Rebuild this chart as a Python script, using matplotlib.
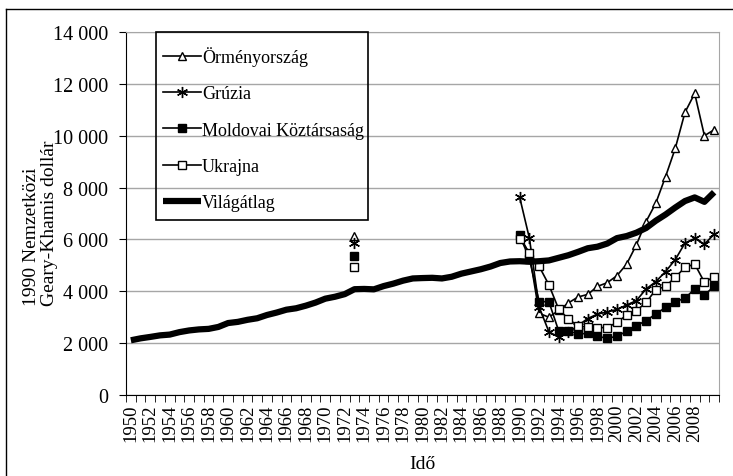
import numpy as np
import matplotlib.pyplot as plt
from matplotlib.lines import Line2D
from matplotlib.patches import Rectangle
from matplotlib.ticker import FuncFormatter

plt.rcParams['font.family'] = ['Liberation Serif', 'DejaVu Serif']
plt.rcParams['font.size'] = 13.5

years = list(range(1950, 2011))

# world average, 1950-2010
world = [2110, 2185, 2240, 2300, 2330, 2425, 2490, 2530, 2550, 2625,
         2775, 2820, 2900, 2960, 3085, 3180, 3290, 3345, 3445, 3565,
         3715, 3790, 3890, 4080, 4090, 4075, 4200, 4295, 4410, 4495,
         4510, 4520, 4495, 4560, 4680, 4765, 4850, 4955, 5090, 5150,
         5160, 5140, 5160, 5190, 5290, 5390, 5520, 5660, 5720, 5840,
         6050, 6130, 6260, 6440, 6720, 6960, 7230, 7480, 7620, 7450,
         7820]

# single year 1973 values
armenia_1973 = 6150
georgia_1973 = 5880
moldova_1973 = 5380
ukraine_1973 = 4920

# 1990-2010 values
armenia = [6140, 5440, 3150, 3000, 3260, 3550, 3780, 3880, 4190, 4330,
           4600, 5050, 5790, 6690, 7400, 8420, 9510, 10900, 11630, 10000,
           10230]
georgia = [7620, 6040, 3390, 2440, 2230, 2420, 2680, 2950, 3120, 3200,
           3300, 3470, 3640, 4090, 4370, 4760, 5220, 5860, 6040, 5820,
           6200]
moldova = [6160, 5250, 3600, 3600, 2480, 2480, 2350, 2380, 2260, 2190,
           2260, 2460, 2670, 2870, 3120, 3380, 3600, 3730, 4090, 3860,
           4190]
ukraine = [6030, 5480, 4960, 4250, 3320, 2930, 2670, 2610, 2600, 2600,
           2800, 3080, 3250, 3570, 4060, 4190, 4540, 4920, 5050, 4350,
           4560]


def full_series(v1973, later):
    s = np.full(len(years), np.nan)
    s[years.index(1973)] = v1973
    s[years.index(1990):] = later
    return s


x = np.arange(len(years))

fig = plt.figure(figsize=(7.33, 4.77), dpi=100)
ax = fig.add_axes([126 / 733, 1 - 396 / 477, (719 - 126) / 733, (396 - 33) / 477])

ax.plot(x, full_series(armenia_1973, armenia), color='black', lw=1.2,
        marker='^', ms=6, mfc='white', mec='black', mew=1, label='Örményország')
ax.plot(x, full_series(georgia_1973, georgia), color='black', lw=1.2,
        marker=(6, 2, 0), ms=8, mec='black', mew=1, label='Grúzia')
ax.plot(x, full_series(moldova_1973, moldova), color='black', lw=1.2,
        marker='s', ms=5.5, mfc='black', mec='black', label='Moldovai Köztársaság')
ax.plot(x, full_series(ukraine_1973, ukraine), color='black', lw=1.2,
        marker='s', ms=5.5, mfc='white', mec='black', mew=1, label='Ukrajna')
ax.plot(x, world, color='black', lw=4.5, solid_capstyle='butt', label='Világátlag')

ax.set_xlim(-0.5, len(years) - 0.5)
ax.set_ylim(0, 14000)
ax.set_yticks(range(0, 14001, 2000))
ax.yaxis.set_major_formatter(FuncFormatter(lambda v, p: f"{int(v):,}".replace(",", " ")))
ax.grid(axis='y', color='#a6a6a6', lw=1)
ax.set_axisbelow(True)

label_years = years[:-1:2]
ax.set_xticks([years.index(y) for y in label_years])
ax.set_xticklabels([str(y) for y in label_years], rotation=90)
ax.set_xticks(np.arange(-0.5, len(years), 1), minor=True)
ax.tick_params(axis='x', which='major', length=0, pad=6, labelsize=13.5)
ax.tick_params(axis='x', which='minor', length=5, direction='out', color='black')
ax.tick_params(axis='y', length=5, direction='out', pad=8, labelsize=14.5)

for side in ['top', 'right']:
    ax.spines[side].set_color('#a6a6a6')
for side in ['left', 'bottom']:
    ax.spines[side].set_color('black')

ax.set_ylabel('1990 Nemzetközi\nGeary-Khamis dollár', linespacing=1.1,
              multialignment='left', fontsize=14)
ax.yaxis.set_label_coords(-0.114, 0.477)
ax.set_xlabel('Idő', labelpad=10, fontsize=14)

leg = ax.legend(loc='upper left', bbox_to_anchor=(156 / 733, 1 - 40 / 477, 212 / 733, 0),
                bbox_transform=fig.transFigure, mode='expand', borderaxespad=0,
                frameon=False, handlelength=2.1, handletextpad=0.05,
                labelspacing=1.07, borderpad=0.4, fontsize=13)

# legend box
fig.add_artist(Rectangle((156 / 733, 1 - 221 / 477), 212 / 733, 188 / 477,
                         transform=fig.transFigure, facecolor='none',
                         edgecolor='black', lw=1.2, zorder=5))

# outer frame of the chart area
fig.add_artist(Line2D([6 / 733, 6 / 733], [0, 1 - 10 / 477], color='black', lw=1,
                      transform=fig.transFigure))
fig.add_artist(Line2D([6 / 733, 1], [1 - 10 / 477, 1 - 10 / 477], color='black', lw=1,
                      transform=fig.transFigure))

fig.savefig('out.png', dpi=100)
